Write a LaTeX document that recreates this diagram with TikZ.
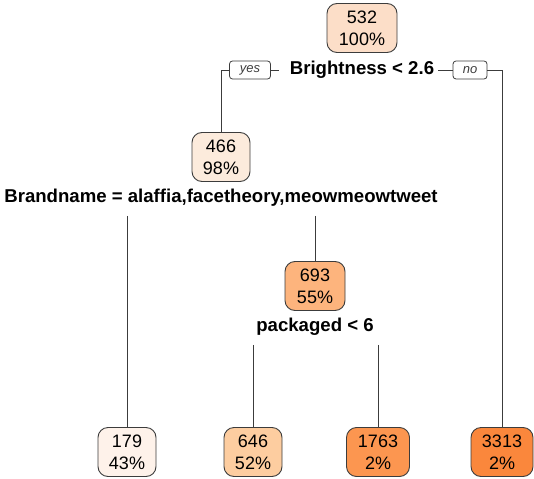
\documentclass[tikz,border=0pt]{standalone}
\usepackage{fontspec}
\setmainfont{Liberation Sans}
\usetikzlibrary{positioning}

\definecolor{fillroot}{RGB}{252,222,200}
\definecolor{fillA}{RGB}{252,235,220}
\definecolor{fillB}{RGB}{253,180,125}
\definecolor{fillC}{RGB}{254,242,234}
\definecolor{fillD}{RGB}{253,205,160}
\definecolor{fillE}{RGB}{252,150,80}
\definecolor{fillF}{RGB}{250,135,60}
\definecolor{edgegray}{RGB}{60,60,60}

\tikzset{
  treenode/.style={draw=edgegray, line width=0.9pt, rounded corners=10pt, align=center,
    minimum width=58pt, minimum height=49pt, inner xsep=4pt,
    font=\fontsize{18}{22}\selectfont},
  splitlbl/.style={font=\bfseries\fontsize{18.6}{22}\selectfont, inner sep=1pt},
  yesno/.style={draw=edgegray, line width=0.8pt, rounded corners=3pt, inner xsep=4pt, inner ysep=1pt,
    minimum height=18pt, font=\itshape\fontsize{13}{15}\selectfont, text=edgegray},
  branch/.style={draw=edgegray, line width=0.8pt}
}

\begin{document}
\begin{tikzpicture}[x=1pt, y=-1pt]
  \useasboundingbox (0,0) rectangle (534,478);

  % inner nodes
  \node[treenode, fill=fillroot, minimum width=70pt] (root) at (362,28) {532\\100\%};
  \node[treenode, fill=fillA] (n466) at (221,157) {466\\98\%};
  \node[treenode, fill=fillB, minimum width=60pt] (n693) at (315,286) {693\\55\%};

  % leaves
  \node[treenode, fill=fillC] (n179) at (127,452) {179\\43\%};
  \node[treenode, fill=fillD] (n646) at (253,452) {646\\52\%};
  \node[treenode, fill=fillE, minimum width=63pt] (n1763) at (378,452) {1763\\2\%};
  \node[treenode, fill=fillF, minimum width=62pt] (n3313) at (502,452) {3313\\2\%};

  % split labels
  \node[splitlbl] (lbl1) at (362,70) {Brightness < 2.6};
  \node[splitlbl] (lbl2) at (221,198) {Brandname = alaffia,facetheory,meowmeowtweet};
  \node[splitlbl] (lbl3) at (315,327) {packaged < 6};

  \node[yesno, minimum width=41pt] (yes) at (250,70) {yes};
  \node[yesno, minimum width=34pt] (no) at (470,70) {no};

  % branches
  \draw[branch] (yes.west) -| (n466.north);
  \draw[branch] (yes.east) -- ([xshift=-10pt]lbl1.west);
  \draw[branch] ([xshift=3pt]lbl1.east) -- (no.west);
  \draw[branch] (no.east) -| (n3313.north);

  \draw[branch] ([yshift=-8pt]n179 |- lbl2.south) -- (n179.north);
  \draw[branch] ([yshift=-8pt]n693 |- lbl2.south) -- (n693.north);

  \draw[branch] ([yshift=-8pt]n646 |- lbl3.south) -- (n646.north);
  \draw[branch] ([yshift=-8pt]n1763 |- lbl3.south) -- (n1763.north);
\end{tikzpicture}
\end{document}
